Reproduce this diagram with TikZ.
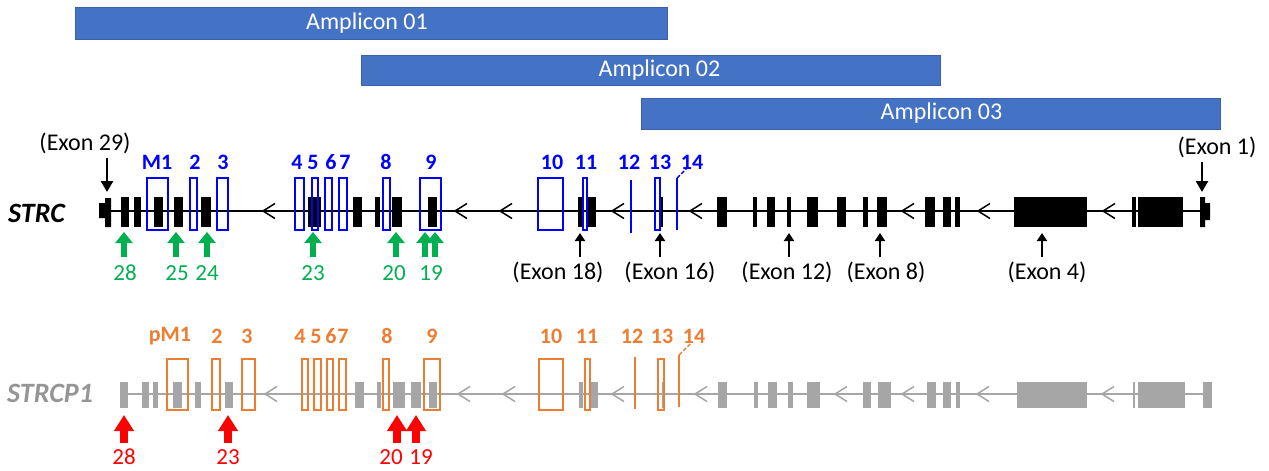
\documentclass[tikz,border=0pt]{standalone}
\usepackage{fontspec}
\setmainfont{Carlito}
\usetikzlibrary{arrows.meta}
\definecolor{ampblue}{HTML}{4472C4}
\definecolor{exblue}{HTML}{0000FF}
\definecolor{exorange}{HTML}{ED7D31}
\definecolor{exgreen}{HTML}{00B050}
\definecolor{exred}{HTML}{FF0000}
\definecolor{exgray}{HTML}{A6A6A6}
\tikzset{
  amp/.style={fill=ampblue,draw=ampblue!85!black,line width=0.6pt,inner sep=0pt},
  amptxt/.style={text=white,font=\fontsize{24}{28}\selectfont},
  chev/.style={line width=1.5pt},
  numlbl/.style={font=\bfseries\fontsize{22}{26}\selectfont,inner sep=0pt},
  exlbl/.style={font=\fontsize{24}{28}\selectfont,inner sep=0pt},
  mutlbl/.style={font=\fontsize{23}{27}\selectfont,inner sep=0pt},
  genelbl/.style={font=\bfseries\itshape\fontsize{28}{32}\selectfont,inner sep=0pt,anchor=west},
  karr/.style={line width=2.6pt,-{Triangle[length=8pt,width=10pt]}},
  garr/.style={exgreen,line width=6.5pt,-{Triangle[length=11pt,width=17pt]}},
  rarr/.style={exred,line width=8pt,-{Triangle[length=16pt,width=19pt]}}
}
\begin{document}
\begin{tikzpicture}[x=1pt,y=-1pt]
\useasboundingbox (0,0) rectangle (1269,471);
% amplicons
\node[amp,minimum width=592pt,minimum height=32pt,
  label={[amptxt,xshift=-4pt]center:Amplicon 01}] (amp1) at (371,23) {};
\node[amp,minimum width=579pt,minimum height=30pt,
  label={[amptxt,xshift=9pt]center:Amplicon 02}] (amp2) at (650.5,70) {};
\node[amp,minimum width=579pt,minimum height=31pt,
  label={[amptxt,xshift=11pt]center:Amplicon 03}] (amp3) at (930.5,113.5) {};
% STRC
\node[genelbl] (strc) at (8,213) {STRC};
\draw[line width=2pt] (100,211) -- (1209,211);
\foreach \x in {263,455,500,612,690,902,978,1103}
  \draw[chev] (\x+12,203.5) -- (\x,211) -- (\x+12,218.5);
\fill (99,203) rectangle (105,218) (105,198) rectangle (111,227);
\fill (1200,197) rectangle (1205,227) (1205,203) rectangle (1210,220);
\foreach \a/\b in {121/129,134/141,154/163,174/183,201/211,308/321,353/362,375/380,
    392/402,428/437,578/583,587/596,660/663,717/727,753/757,767/775,787/791,
    807/818,837/846,863/868,877/887,925/935,943/951,955/960,1014/1087,1132/1136,1138/1183}
  \fill (\a,197) rectangle (\b,227);
\foreach \a/\b in {147/168,190/197,217/228,295/304,312/318,325/332,339/347,
    383/390,420/441,538/563,583/587,655/660}
  \draw[exblue,line width=1.6pt] (\a,178) rectangle (\b,230);
\draw[exblue,line width=2.8pt] (631,180) -- (631,233) (677,230) -- (677,178);
\draw[exblue,line width=1.4pt,dashed,dash pattern=on 4pt off 2pt] (677,178) -- (688,167);
\foreach \x/\t in {157/M1,195/2,223/3,297/4,313/5,331/6,345/7,386/8,431/9,
    552/10,586/11,629/12,660/13,692/14}
  \node[numlbl,exblue] (s\t) at (\x,162) {\t};
% STRC exon pointers
\node[exlbl] (x29) at (85,143) {(Exon 29)};
\coordinate (xt29) at (107,192);
\draw[karr,-{Triangle[length=11pt,width=12pt]},shorten <=4pt] (x29.south -| xt29) -- (xt29);
\node[exlbl] (x1) at (1217,147) {(Exon 1)};
\coordinate (xt1) at (1202,192);
\draw[karr,-{Triangle[length=11pt,width=12pt]},shorten <=4pt] (x1.south -| xt1) -- (xt1);
\foreach \ax/\lx/\n in {580/558/18,660/670/16,789/787/12,880/886/8,1042/1047/4}{
  \node[exlbl] (x\n) at (\lx,272) {(Exon \n)};
  \coordinate (xt\n) at (\ax,233);
  \draw[karr,shorten <=4pt] (x\n.north -| xt\n) -- (xt\n);
}
\foreach \ax/\lx/\n in {124/125/28,176/177/25,207/207/24,313/313/23,396/394/20}{
  \node[mutlbl,exgreen] (g\n) at (\lx,273) {\n};
  \coordinate (gt\n) at (\ax,232);
  \draw[garr,shorten <=8pt] (g\n.north -| gt\n) -- (gt\n);
}
\node[mutlbl,exgreen] (g19) at (431,273) {19};
\coordinate (gt19a) at (425,232);
\coordinate (gt19b) at (435,232);
\draw[garr,shorten <=8pt] (g19.north -| gt19a) -- (gt19a);
\draw[garr,shorten <=8pt] (g19.north -| gt19b) -- (gt19b);
% STRCP1
\node[genelbl,text=exgray!90!black] (strcp) at (7,393) {STRCP1};
\draw[exgray,line width=2pt] (120,394) -- (1212,394);
\foreach \x in {265,458,503,612,695,835,902,977,1102}
  \draw[chev,exgray] (\x+12,386.5) -- (\x,394) -- (\x+12,401.5);
\foreach \a/\b in {120/128,142/149,153/158,173/182,195/201,225/233,355/364,377/381,
    393/405,411/421,429/437,579/583,590/598,661.5/663,718/727,754/758,768/777,788/793,
    807/820,863/871,878/891,927/936,943/951,956/960,1017/1087,1133/1134.5,1138/1185,1203/1212}
  \fill[exgray] (\a,382) rectangle (\b,408);
\foreach \a/\b in {167/188,212/220,242/255,302/308,314/321,327/333,339/346,
    383/389,424/440,539/563,585/590,658/664}
  \draw[exorange,line width=1.6pt] (\a,359) rectangle (\b,410);
\draw[exorange,line width=2.8pt] (635,357) -- (635,409) (679,407) -- (679,355);
\draw[exorange,line width=1.4pt,dashed,dash pattern=on 4pt off 2pt] (679,355) -- (690,344);
\foreach \x/\t in {170/pM1,217/2,247/3,300/4,316/5,331/6,343/7,387/8,432/9,
    551/10,587/11,632/12,662/13,694/14}
  \node[numlbl,exorange] (p\t) at (\x,336) {\t};
\foreach \ax/\lx/\n in {124/124/28,228/228/23,397/391/20,416/421/19}{
  \node[mutlbl,exred] (r\n) at (\lx,457) {\n};
  \coordinate (rt\n) at (\ax,415);
  \draw[rarr,shorten <=6pt] (r\n.north -| rt\n) -- (rt\n);
}
\end{tikzpicture}
\end{document}
